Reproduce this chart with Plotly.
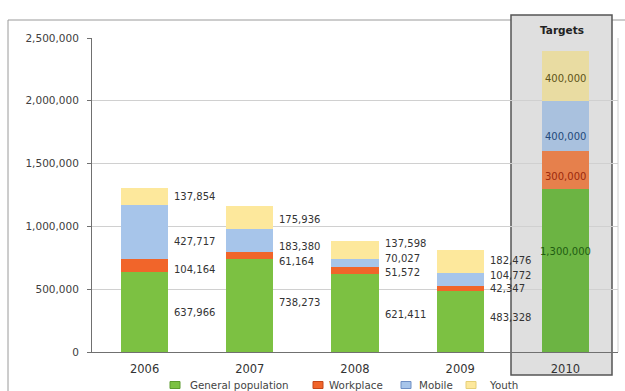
import plotly.graph_objects as go

# ---- data ----
years = ["2006", "2007", "2008", "2009", "2010"]
general_population = [637966, 738273, 621411, 483328, 1300000]
workplace = [104164, 61164, 51572, 42347, 300000]
mobile = [427717, 183380, 70027, 104772, 400000]
youth = [137854, 175936, 137598, 182476, 400000]
y_ticks = [0, 500000, 1000000, 1500000, 2000000, 2500000]

# ---- geometry (pixels) ----
W, H = 625, 391
ML, MR, MT, MB = 92, 7, 38, 39
PW, PH = W - ML - MR, H - MT - MB


def px_x(p):
    return (p - ML) / PW


def px_y(p):
    return (H - MB - p) / PH


FONT = "DejaVu Sans"

series = [
    ("General population", general_population, "#7cc142", "#6cb443", "#1f5c12", "#5d9a2e"),
    ("Workplace", workplace, "#f1652a", "#e6804c", "#9c2a0c", "#c4471a"),
    ("Mobile", mobile, "#a7c5ea", "#a9c1de", "#24497a", "#6f8fc4"),
    ("Youth", youth, "#fde89c", "#e9dca2", "#5e5418", "#e6cf78"),
]

# vertical nudges (px, up positive) for the value labels of each segment
label_nudge = [
    [-1, 3, -2, 4, 19],
    [-4, -6, -2, 0, -7],
    [-10, -6, 5, 4, -11],
    [0, -2, 7, 1, -3],
]

# legend layout: (swatch left px, text left px)
legend_pos = [(170, 188), (313, 327), (401, 417), (466, 487)]
LEGEND_Y = 385

fig = go.Figure()
for name, vals, col, target_col, _, _ in series:
    colors = [col] * (len(years) - 1) + [target_col]
    fig.add_trace(go.Bar(
        x=years, y=vals, name=name,
        marker=dict(color=colors, line=dict(width=0)),
        hoverinfo="skip", showlegend=False,
    ))

# value labels
annotations = []
base = [0] * len(years)
for s, (name, vals, col, target_col, txt_col, _) in enumerate(series):
    for i, v in enumerate(vals):
        mid = base[i] + v / 2
        if i < len(years) - 1:
            annotations.append(dict(
                x=i + 0.225, y=mid, xref="x", yref="y",
                text=f"{v:,}", showarrow=False, xanchor="left", yanchor="middle",
                xshift=4, yshift=label_nudge[s][i],
                font=dict(family=FONT, size=10, color="#333333"),
            ))
        else:
            annotations.append(dict(
                x=i, y=mid, xref="x", yref="y",
                text=f"{v:,}", showarrow=False, xanchor="center", yanchor="middle",
                yshift=label_nudge[s][i],
                font=dict(family=FONT, size=10, color=txt_col),
            ))
        base[i] += v

annotations.append(dict(
    x=px_x(561.5), y=px_y(30), xref="paper", yref="paper",
    text="<b>Targets</b>", showarrow=False, xanchor="center", yanchor="middle",
    font=dict(family=FONT, size=10.5, color="#222222"),
))

shapes = [
    # outer frame
    dict(type="rect", xref="paper", yref="paper",
         x0=px_x(8), x1=px_x(660), y0=px_y(420), y1=px_y(20),
         line=dict(color="#9a9a9a", width=1), fillcolor="rgba(0,0,0,0)", layer="below"),
    # targets panel
    dict(type="rect", xref="paper", yref="paper",
         x0=px_x(511), x1=px_x(612), y0=px_y(375), y1=px_y(15),
         line=dict(color="#555555", width=1.5), fillcolor="#dfdfdf", layer="below"),
    # right edge of plot area
    dict(type="line", xref="paper", yref="paper", x0=1, x1=1, y0=0, y1=1,
         line=dict(color="#d0d0d0", width=1), layer="below"),
]

# legend row along the bottom
for (name, _, col, _, _, edge), (sx, tx) in zip(series, legend_pos):
    shapes.append(dict(
        type="rect", xref="paper", yref="paper",
        x0=px_x(sx), x1=px_x(sx + 10), y0=px_y(LEGEND_Y + 3.5), y1=px_y(LEGEND_Y - 3.5),
        fillcolor=col, line=dict(color=edge, width=1),
    ))
    annotations.append(dict(
        x=px_x(tx), y=px_y(LEGEND_Y), xref="paper", yref="paper",
        text=name, showarrow=False, xanchor="left", yanchor="middle",
        font=dict(family=FONT, size=10.3, color="#444444"),
    ))

fig.update_layout(
    width=W, height=H,
    margin=dict(l=ML, r=MR, t=MT, b=MB, pad=0, autoexpand=False),
    barmode="stack", bargap=0.55,
    paper_bgcolor="white", plot_bgcolor="rgba(0,0,0,0)",
    font=dict(family=FONT, color="#404040"),
    showlegend=False,
    annotations=annotations,
    shapes=shapes,
)
fig.update_xaxes(
    showline=True, linecolor="#707070", linewidth=1,
    showgrid=False, ticks="", tickfont=dict(family=FONT, size=11.5, color="#333333"),
    ticklabelstandoff=6,
)
fig.update_yaxes(
    range=[0, 2500000], tickvals=y_ticks, tickformat=",d",
    showline=True, linecolor="#707070", linewidth=1,
    showgrid=True, gridcolor="#d0d0d0", gridwidth=1, zeroline=False,
    ticks="outside", ticklen=4, tickcolor="#707070",
    tickfont=dict(family=FONT, size=10.5, color="#404040"),
    ticklabelstandoff=6,
)

fig.write_html("out.html")
